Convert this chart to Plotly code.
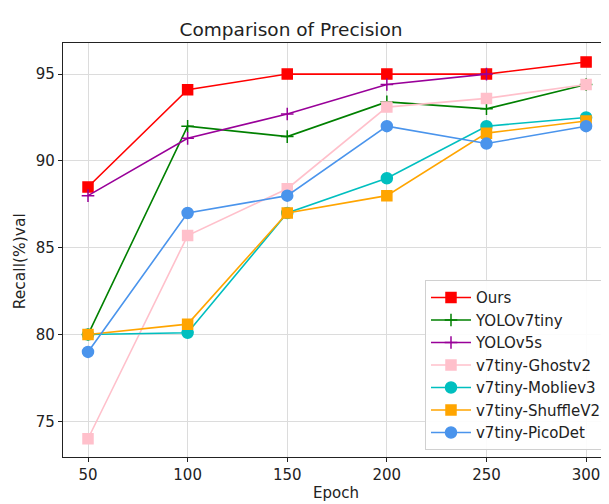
import plotly.graph_objects as go

epochs = [50, 100, 150, 200, 250, 300]
ours = [88.5, 94.1, 95.0, 95.0, 95.0, 95.7]
yolov7tiny = [80.0, 92.0, 91.4, 93.4, 93.0, 94.4]
yolov5s = [88.0, 91.3, 92.7, 94.4, 95.0, None]
ghostv2 = [74.0, 85.7, 88.4, 93.1, 93.6, 94.4]
mobliev3 = [80.0, 80.1, 87.0, 89.0, 92.0, 92.5]
shufflev2 = [80.0, 80.6, 87.0, 88.0, 91.6, 92.3]
picodet = [79.0, 87.0, 88.0, 92.0, 91.0, 92.0]

series = [
    ("Ours", ours, "#ff0000", "square", 10),
    ("YOLOv7tiny", yolov7tiny, "#008000", "cross-thin", 9),
    ("YOLOv5s", yolov5s, "#990099", "cross-thin", 9),
    ("v7tiny-Ghostv2", ghostv2, "#ffc0cb", "square", 10),
    ("v7tiny-Mobliev3", mobliev3, "#00bfbf", "circle", 11),
    ("v7tiny-ShuffleV2", shufflev2, "#ffa500", "square", 10),
    ("v7tiny-PicoDet", picodet, "#4a94ec", "circle", 11),
]

fig = go.Figure()
for name, vals, color, sym, size in series:
    fig.add_trace(go.Scatter(
        x=epochs, y=vals, name=name, mode="lines+markers",
        line=dict(color=color, width=1.6),
        marker=dict(color=color, symbol=sym, size=size,
                    line=dict(color=color, width=1.5)),
        connectgaps=False,
    ))

font = "DejaVu Sans"
fig.update_layout(
    width=601, height=496,
    margin=dict(l=55, r=0, t=35, b=47),
    paper_bgcolor="white", plot_bgcolor="white",
    font=dict(family=font, size=13, color="#222222"),
    title=dict(text="Comparison of Precision", x=0.471, xanchor="center",
               y=0.956, yanchor="middle", font=dict(size=18.5, color="#222222")),
    showlegend=True,
    legend=dict(x=0.663, y=0.427, xanchor="left", yanchor="top",
                bgcolor="rgba(255,255,255,0.9)", bordercolor="#d0d0d0", borderwidth=1,
                font=dict(size=15, color="#222222"), tracegroupgap=0,
                itemwidth=40),
    annotations=[dict(text="Recall(%)val", textangle=-90, xref="paper", yref="paper",
                      x=-(55 - 12) / 546, y=(448.5 - 253) / 413.5,
                      xanchor="center", yanchor="middle", showarrow=False,
                      font=dict(size=15.5, color="#222222"))],
)
fig.update_xaxes(
    range=[37.45, 311.5], tickvals=epochs, ticks="outside", ticklen=4,
    tickcolor="#222222", showline=True, linecolor="#222222", linewidth=1.2,
    mirror=True, showgrid=True, gridcolor="#dcdcdc", gridwidth=1, zeroline=False,
    title=dict(text="Epoch", font=dict(size=15), standoff=4),
    tickfont=dict(size=15),
)
fig.update_yaxes(
    range=[72.95, 96.79], tickvals=[75, 80, 85, 90, 95], ticks="outside", ticklen=4,
    tickcolor="#222222", showline=True, linecolor="#222222", linewidth=1.2,
    showgrid=True, gridcolor="#dcdcdc", gridwidth=1, zeroline=False,
    tickfont=dict(size=15),
)
fig.write_html("out.html")
